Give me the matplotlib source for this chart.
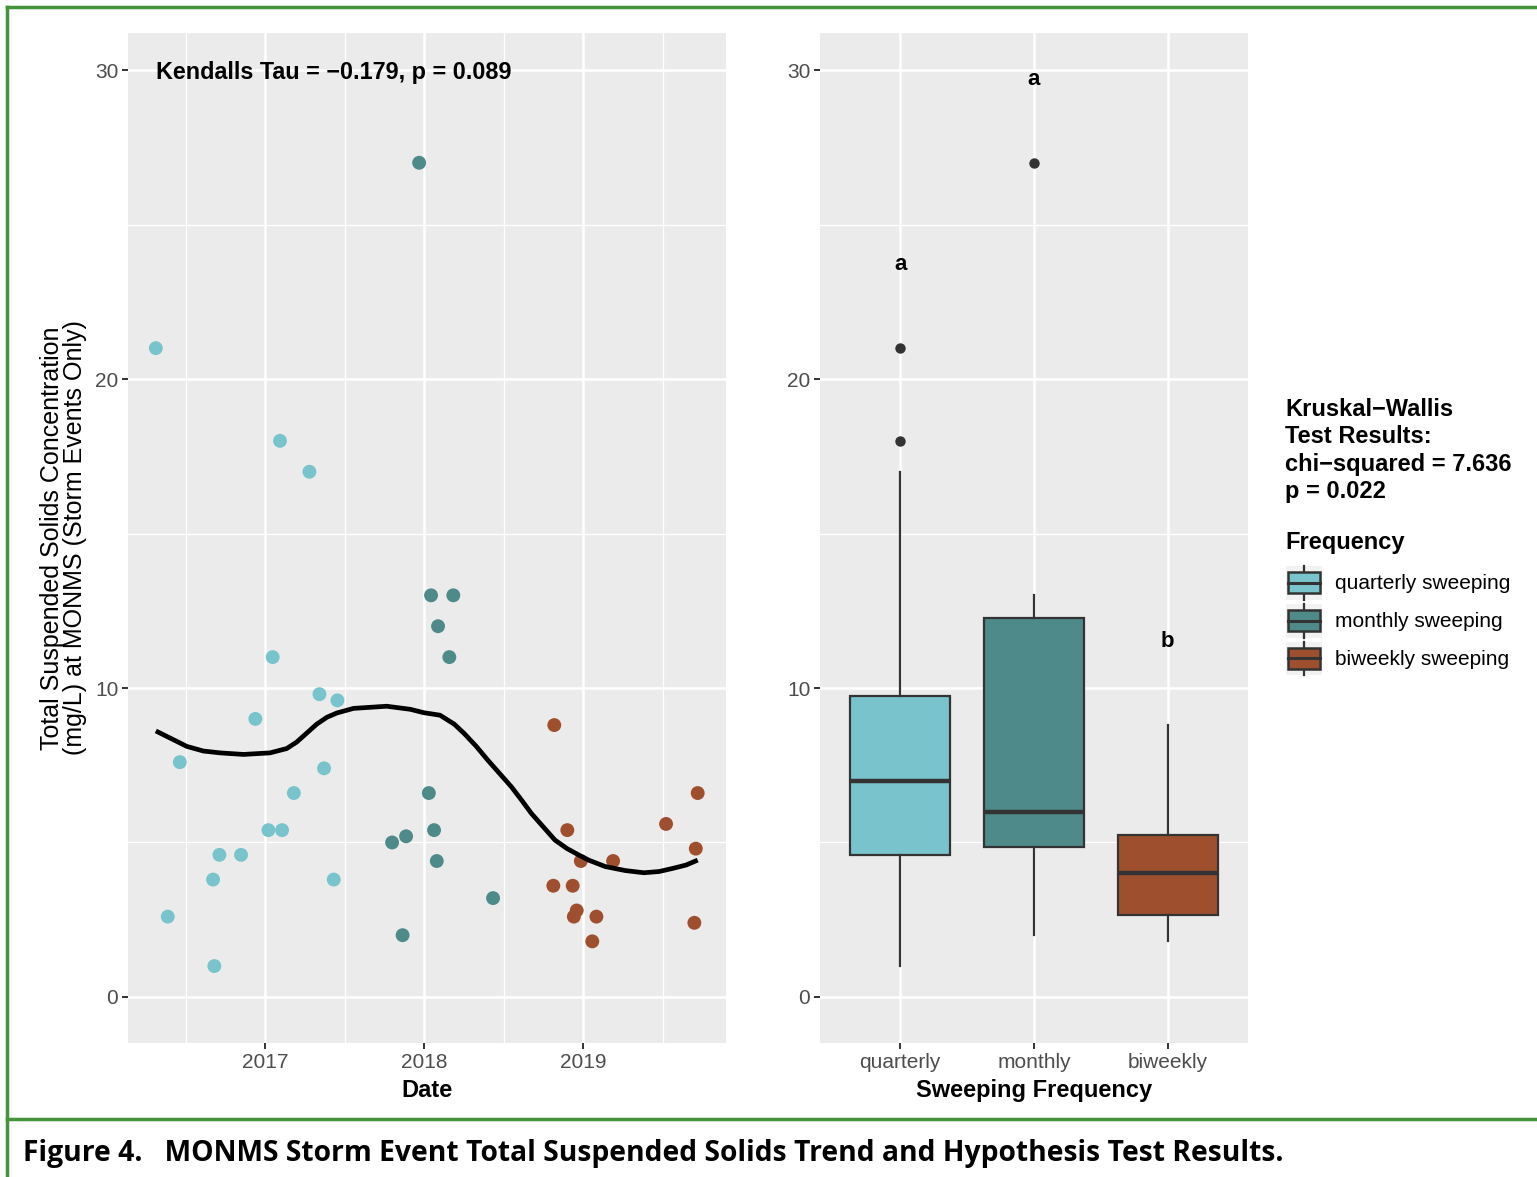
import matplotlib
matplotlib.use('Agg')
import matplotlib.pyplot as plt
from matplotlib.patches import Rectangle
from matplotlib.lines import Line2D
from matplotlib.legend_handler import HandlerBase

plt.rcParams['font.family'] = ['Liberation Sans', 'DejaVu Sans']

# ============================================
# Data (dates as decimal years, TSS in mg/L)
# ============================================
quarterly_dates = [2016.313, 2016.388, 2016.464, 2016.673, 2016.681, 2016.713, 2016.849, 2016.939, 2017.021,
                   2017.048, 2017.094, 2017.107, 2017.181, 2017.279, 2017.342, 2017.371, 2017.432, 2017.455]
quarterly_tss = [21.0, 2.6, 7.6, 3.8, 1.0, 4.6, 4.6, 9.0, 5.4, 11.0, 18.0, 5.4, 6.6, 17.0, 9.8, 7.4, 3.8, 9.6]

monthly_dates = [2017.799, 2017.865, 2017.887, 2017.969, 2018.030, 2018.044, 2018.063, 2018.080, 2018.088,
                 2018.159, 2018.184, 2018.434]
monthly_tss = [5.0, 2.0, 5.2, 27.0, 6.6, 13.0, 5.4, 4.4, 12.0, 11.0, 13.0, 3.2]

biweekly_dates = [2018.813, 2018.819, 2018.901, 2018.935, 2018.942, 2018.960, 2018.986, 2019.058, 2019.084,
                  2019.189, 2019.522, 2019.700, 2019.709, 2019.721]
biweekly_tss = [3.6, 8.8, 5.4, 3.6, 2.6, 2.8, 4.4, 1.8, 2.6, 4.4, 5.6, 2.4, 4.8, 6.6]

# smoothed trend line
smooth_dates = [2016.313, 2016.508, 2016.612, 2016.717, 2016.864, 2017.031, 2017.136, 2017.199, 2017.262,
                2017.325, 2017.388, 2017.451, 2017.556, 2017.765, 2017.914, 2017.999, 2018.100, 2018.190,
                2018.252, 2018.327, 2018.400, 2018.474, 2018.548, 2018.612, 2018.675, 2018.749, 2018.823,
                2018.897, 2018.971, 2019.035, 2019.140, 2019.267, 2019.383, 2019.478, 2019.563, 2019.648,
                2019.721]
smooth_tss = [8.61, 8.11, 7.96, 7.90, 7.85, 7.90, 8.04, 8.25, 8.54, 8.83, 9.05, 9.19, 9.34, 9.41, 9.31, 9.20,
              9.12, 8.83, 8.53, 8.12, 7.67, 7.24, 6.81, 6.38, 5.94, 5.51, 5.08, 4.81, 4.60, 4.43, 4.22, 4.09,
              4.02, 4.06, 4.16, 4.27, 4.43]

groups = ['quarterly', 'monthly', 'biweekly']
legend_labels = ['quarterly sweeping', 'monthly sweeping', 'biweekly sweeping']
colors = ['#79C4CC', '#4F8A8A', '#9E502E']
letters = ['a', 'a', 'b']

kendall_text = 'Kendalls Tau = \u22120.179, p = 0.089'
kw_text = 'Kruskal\u2212Wallis\nTest Results:\nchi\u2212squared = 7.636\np = 0.022'
caption = 'Figure 4.   MONMS Storm Event Total Suspended Solids Trend and Hypothesis Test Results.'

W, H = 1537, 1177
fig = plt.figure(figsize=(W / 100, H / 100), dpi=100)


def px_axes(x0, y0, x1, y1):
    return fig.add_axes([x0 / W, 1 - y1 / H, (x1 - x0) / W, (y1 - y0) / H])


def ggplot_style(ax):
    ax.set_facecolor('#EBEBEB')
    for s in ax.spines.values():
        s.set_visible(False)
    ax.set_axisbelow(True)
    ax.grid(which='major', color='white', lw=1.8)
    ax.grid(which='minor', color='white', lw=0.9)
    ax.tick_params(which='major', length=4, width=1.4, color='#333333', labelcolor='#4D4D4D',
                   labelsize=15, pad=3)
    ax.tick_params(which='minor', length=0)
    ax.set_ylim(-1.49, 31.2)
    ax.set_yticks([0, 10, 20, 30])
    ax.set_yticks([5, 15, 25], minor=True)


# ============================================
# Left panel: scatter + trend
# ============================================
ax1 = px_axes(128, 33, 726, 1043)
ggplot_style(ax1)
for d, v, c in zip([quarterly_dates, monthly_dates, biweekly_dates],
                   [quarterly_tss, monthly_tss, biweekly_tss], colors):
    ax1.scatter(d, v, s=100, color=c, edgecolors='none', zorder=3)
ax1.plot(smooth_dates, smooth_tss, color='black', lw=3.4, zorder=4, solid_capstyle='butt',
         solid_joinstyle='round')
ax1.set_xlim(2016.138, 2019.899)
ax1.set_xticks([2017, 2018, 2019])
ax1.set_xticklabels(['2017', '2018', '2019'])
ax1.set_xticks([2016.5, 2017.5, 2018.5, 2019.5], minor=True)
ax1.text(quarterly_dates[0], 29.92, kendall_text, ha='left', va='center', fontsize=16.8,
         fontweight='bold', color='black')
ax1.set_xlabel('Date', fontsize=17, fontweight='bold', labelpad=5)
ax1.set_ylabel('Total Suspended Solids Concentration\n(mg/L) at MONMS (Storm Events Only)',
               fontsize=18, labelpad=6, linespacing=0.95)

# ============================================
# Right panel: boxplots by sweeping frequency
# ============================================
ax2 = px_axes(820, 33, 1248, 1043)
ggplot_style(ax2)
bp = ax2.boxplot([quarterly_tss, monthly_tss, biweekly_tss], positions=[1, 2, 3], widths=0.75,
                 patch_artist=True, showcaps=False, whis=1.5,
                 boxprops=dict(edgecolor='#333333', lw=1.6),
                 whiskerprops=dict(color='#333333', lw=1.6),
                 medianprops=dict(color='#333333', lw=3.2),
                 flierprops=dict(marker='o', markerfacecolor='#333333', markeredgecolor='none',
                                 markersize=7.5))
for patch, c in zip(bp['boxes'], colors):
    patch.set_facecolor(c)
for i, vals in enumerate([quarterly_tss, monthly_tss, biweekly_tss]):
    ax2.text(i + 1, max(vals) + 2.7, letters[i], ha='center', va='center', fontsize=16,
             fontweight='bold', color='black')
ax2.set_xlim(0.4, 3.6)
ax2.set_xticks([1, 2, 3])
ax2.set_xticklabels(groups)
ax2.set_xlabel('Sweeping Frequency', fontsize=17, fontweight='bold', labelpad=5)

# ============================================
# Legend area
# ============================================
fig.text(1285 / W, 1 - 398 / H, kw_text, ha='left', va='top', fontsize=17, fontweight='bold',
         linespacing=1.24)
fig.text(1285 / W, 1 - 542 / H, 'Frequency', ha='left', va='center', fontsize=17, fontweight='bold')


class BoxKey(HandlerBase):
    def create_artists(self, legend, orig_handle, xdescent, ydescent, width, height, fontsize, trans):
        x0, y0 = -xdescent, -ydescent
        bg = Rectangle((x0, y0), width, height, facecolor='#F2F2F2', edgecolor='none', transform=trans)
        cx = x0 + width / 2
        wh = Line2D([cx, cx], [y0, y0 + height], color='#333333', lw=1.6, transform=trans)
        box = Rectangle((x0 + width * 0.06, y0 + height * 0.19), width * 0.88, height * 0.62,
                        facecolor=orig_handle.get_facecolor(), edgecolor='#333333', lw=1.8, transform=trans)
        med = Line2D([x0 + width * 0.06, x0 + width * 0.94], [y0 + height / 2] * 2, color='#333333',
                     lw=2.2, transform=trans)
        return [bg, wh, box, med]


handles = [Rectangle((0, 0), 1, 1, facecolor=c) for c in colors]
leg = fig.legend(handles, legend_labels, loc='upper left', bbox_to_anchor=(1286 / W, 1 - 566 / H),
                 frameon=False, fontsize=15, borderpad=0, borderaxespad=0,
                 handlelength=1.73, handleheight=2.12, handletextpad=0.6, labelspacing=0.19,
                 handler_map={Rectangle: BoxKey()})

# ============================================
# Green frame and caption
# ============================================
green = '#43943A'
fig.add_artist(Line2D([7 / W, 1], [1 - 7 / H, 1 - 7 / H], color=green, lw=2.5))
fig.add_artist(Line2D([7 / W, 7 / W], [0, 1 - 7 / H], color=green, lw=2.5))
fig.add_artist(Line2D([7 / W, 1], [1 - 1119 / H, 1 - 1119 / H], color=green, lw=2.5))
fig.text(23 / W, 1 - 1153 / H, caption, ha='left', va='center', fontsize=20.3, fontweight='bold',
         family=['Open Sans', 'DejaVu Sans'], color='black')

plt.savefig('out.png', dpi=100)
